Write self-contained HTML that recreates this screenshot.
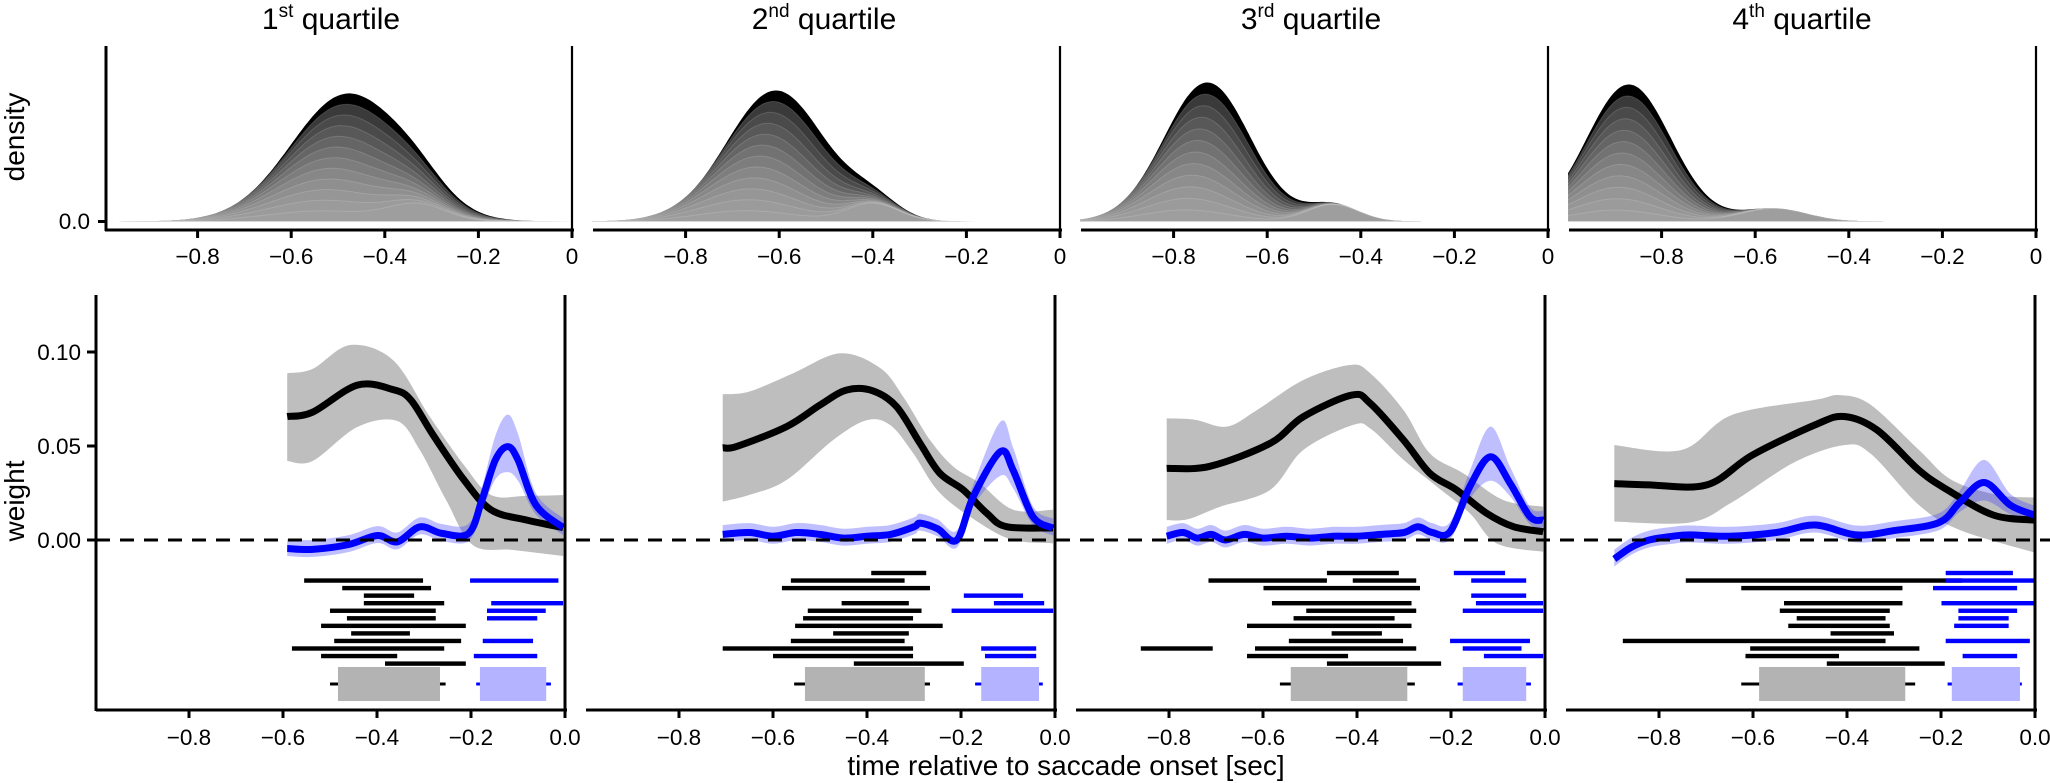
<!DOCTYPE html>
<html><head><meta charset="utf-8"><style>
html,body{margin:0;padding:0;background:#fff;}
svg{display:block;font-family:"Liberation Sans",Arial,sans-serif;}
</style></head><body>
<svg id="s" width="2050" height="783" viewBox="0 0 2050 783" xmlns="http://www.w3.org/2000/svg">
<text x="331" y="29" font-size="30" text-anchor="middle">1<tspan font-size="19" dy="-12">st</tspan><tspan dy="12"> quartile</tspan></text>
<text x="824" y="29" font-size="30" text-anchor="middle">2<tspan font-size="19" dy="-12">nd</tspan><tspan dy="12"> quartile</tspan></text>
<text x="1311" y="29" font-size="30" text-anchor="middle">3<tspan font-size="19" dy="-12">rd</tspan><tspan dy="12"> quartile</tspan></text>
<text x="1802" y="29" font-size="30" text-anchor="middle">4<tspan font-size="19" dy="-12">th</tspan><tspan dy="12"> quartile</tspan></text>
<text transform="translate(24,137) rotate(-90)" font-size="28" text-anchor="middle">density</text>
<text transform="translate(24,501) rotate(-90)" font-size="28" text-anchor="middle">weight</text>
<text x="1066" y="775" font-size="28" text-anchor="middle">time relative to saccade onset [sec]</text>
<g id="g"></g>
</svg>
<script>
var NS="http://www.w3.org/2000/svg",G=document.getElementById('g');
function el(t,a,txt){var e=document.createElementNS(NS,t);for(var k in a)e.setAttribute(k,a[k]);if(txt!=null)e.textContent=txt;G.appendChild(e);return e;}
function spline(pts){
 var d="M"+pts[0][0].toFixed(1)+","+pts[0][1].toFixed(1);
 for(var i=0;i<pts.length-1;i++){var p0=pts[Math.max(0,i-1)],p1=pts[i],p2=pts[i+1],p3=pts[Math.min(pts.length-1,i+2)];
  var c1=[p1[0]+(p2[0]-p0[0])/6,p1[1]+(p2[1]-p0[1])/6],c2=[p2[0]-(p3[0]-p1[0])/6,p2[1]-(p3[1]-p1[1])/6];
  d+=" C"+c1[0].toFixed(1)+","+c1[1].toFixed(1)+" "+c2[0].toFixed(1)+","+c2[1].toFixed(1)+" "+p2[0].toFixed(1)+","+p2[1].toFixed(1);}
 return d;}
function splineL(pts){return spline(pts).replace(/^M/,"L");}
var dens=[
 {mu:-0.48,s:0.12,A:128,sh:0.06,bm:-0.33,bs:0.06,bh:16},
 {mu:-0.607,s:0.105,A:131,sh:0.07,bm:-0.40,bs:0.055,bh:18},
 {mu:-0.728,s:0.092,A:139,sh:0.05,bm:-0.46,bs:0.055,bh:17},
 {mu:-0.87,s:0.09,A:137,sh:0.03,bm:-0.56,bs:0.07,bh:13}];
for(var p=0;p<4;p++){
 var Z=572+488*p,L=Z-468,D=dens[p],N=12;
 for(var k=N;k>=1;k--){
  var f=k/N,mk=D.mu-D.sh*(1-f),pts=[];
  for(var t=-1;t<=0.0001;t+=0.01){
   var v=D.bh*Math.exp(-Math.pow(t-D.bm,2)/(2*D.bs*D.bs))+f*(D.A-D.bh*Math.exp(-Math.pow(D.mu-D.bm,2)/(2*D.bs*D.bs)))*Math.exp(-Math.pow(t-mk,2)/(2*D.s*D.s));
   pts.push([Z+t*468,221.5-v]);}
  var g=(k==N)?0:Math.round(158-100*Math.pow((k-1)/(N-2),1.6));
  var col="rgb("+g+","+g+","+g+")";
  el('path',{d:"M"+L+",221.5 "+splineL(pts)+" L"+Z+",221.5 Z",fill:col,stroke:(k==N?"none":"rgba(255,255,255,0.15)"),"stroke-width":1});
 }
 el('line',{x1:L+1,y1:230,x2:Z+2,y2:230,stroke:"#000","stroke-width":3});
 el('line',{x1:Z,y1:46,x2:Z,y2:231,stroke:"#000","stroke-width":2.2});
 var lab=["\u22120.8","\u22120.6","\u22120.4","\u22120.2","0"];
 for(var i=0;i<5;i++){var x=Z-0.8*468+i*0.2*468;
  el('line',{x1:x,y1:230,x2:x,y2:238,stroke:"#000","stroke-width":3});
  el('text',{x:x,y:264,"font-size":22.5,"text-anchor":"middle"},lab[i]);}
}
el('line',{x1:106,y1:46,x2:106,y2:231,stroke:"#000","stroke-width":3});
el('line',{x1:98,y1:221.5,x2:106,y2:221.5,stroke:"#000","stroke-width":3});
el('text',{x:90,y:229,"font-size":22.5,"text-anchor":"end"},"0.0");
function Y(v){return 540-v*1880;}
var blk=[
 [[-0.591,0.0657],[-0.537,0.068],[-0.442,0.0824],[-0.366,0.080],[-0.328,0.0745],[-0.281,0.056],[-0.215,0.032],[-0.157,0.016],[-0.081,0.0106],[-0.004,0.0066]],
 [[-0.707,0.0491],[-0.677,0.0498],[-0.571,0.0603],[-0.5,0.0718],[-0.443,0.0798],[-0.387,0.0793],[-0.337,0.0709],[-0.287,0.0514],[-0.245,0.0355],[-0.195,0.0266],[-0.145,0.0142],[-0.103,0.0071],[-0.004,0.0064]],
 [[-0.805,0.0381],[-0.713,0.0392],[-0.585,0.0514],[-0.514,0.0656],[-0.411,0.0771],[-0.372,0.0727],[-0.301,0.0532],[-0.245,0.0355],[-0.188,0.0266],[-0.124,0.0142],[-0.067,0.0071],[-0.004,0.0044]],
 [[-0.895,0.030],[-0.821,0.0293],[-0.698,0.0293],[-0.601,0.0452],[-0.468,0.0612],[-0.406,0.0657],[-0.336,0.0585],[-0.247,0.0372],[-0.186,0.0266],[-0.089,0.0133],[-0.002,0.0106]]];
var bup=[
 [[-0.591,0.0887],[-0.537,0.091],[-0.457,0.1037],[-0.366,0.0957],[-0.29,0.0665],[-0.215,0.0399],[-0.157,0.0239],[-0.08,0.0235],[-0.004,0.0239]],
 [[-0.707,0.0775],[-0.65,0.079],[-0.557,0.0887],[-0.457,0.0993],[-0.372,0.0915],[-0.323,0.0762],[-0.266,0.0532],[-0.216,0.039],[-0.16,0.0302],[-0.089,0.0161],[-0.004,0.0161]],
 [[-0.805,0.0647],[-0.745,0.064],[-0.677,0.0603],[-0.613,0.0691],[-0.514,0.0851],[-0.415,0.0931],[-0.372,0.0887],[-0.301,0.0691],[-0.245,0.0461],[-0.174,0.0355],[-0.089,0.0213],[-0.004,0.0177]],
 [[-0.895,0.0505],[-0.751,0.0479],[-0.645,0.0665],[-0.468,0.0745],[-0.415,0.0771],[-0.35,0.072],[-0.247,0.0479],[-0.177,0.0319],[-0.08,0.024],[-0.002,0.0226]]];
var blo=[
 [[-0.591,0.042],[-0.537,0.042],[-0.442,0.0601],[-0.357,0.0633],[-0.309,0.0479],[-0.253,0.0213],[-0.196,-0.0027],[-0.11,-0.0053],[-0.004,-0.0085]],
 [[-0.707,0.0204],[-0.65,0.024],[-0.571,0.0319],[-0.472,0.0532],[-0.40,0.0638],[-0.35,0.061],[-0.302,0.0462],[-0.245,0.025],[-0.16,0.009],[-0.089,0.0],[-0.004,-0.0018]],
 [[-0.805,0.0106],[-0.76,0.011],[-0.691,0.0177],[-0.585,0.0266],[-0.514,0.0479],[-0.408,0.0612],[-0.37,0.059],[-0.301,0.0426],[-0.23,0.0284],[-0.16,0.0142],[-0.103,-0.0018],[-0.004,-0.0062]],
 [[-0.895,0.0098],[-0.734,0.0093],[-0.645,0.02],[-0.513,0.0412],[-0.406,0.0505],[-0.35,0.046],[-0.247,0.0186],[-0.16,0.0053],[-0.002,-0.0066]]];
var blu=[
 [[-0.591,-0.0045],[-0.537,-0.005],[-0.46,-0.0024],[-0.399,0.0024],[-0.357,-0.001],[-0.309,0.007],[-0.262,0.0035],[-0.205,0.0035],[-0.177,0.021],[-0.148,0.0426],[-0.122,0.0497],[-0.1,0.0426],[-0.062,0.0186],[-0.004,0.0066]],
 [[-0.707,0.003],[-0.65,0.004],[-0.6,0.002],[-0.55,0.004],[-0.5,0.003],[-0.45,0.001],[-0.4,0.002],[-0.35,0.003],[-0.3,0.007],[-0.287,0.009],[-0.25,0.006],[-0.209,0.0],[-0.174,0.023],[-0.116,0.047],[-0.089,0.037],[-0.047,0.0124],[-0.004,0.0064]],
 [[-0.805,0.002],[-0.77,0.004],[-0.74,0.001],[-0.71,0.003],[-0.68,0.0],[-0.64,0.003],[-0.6,0.001],[-0.55,0.002],[-0.5,0.001],[-0.45,0.002],[-0.4,0.002],[-0.35,0.003],[-0.3,0.004],[-0.27,0.007],[-0.24,0.004],[-0.202,0.0044],[-0.16,0.0284],[-0.116,0.0443],[-0.074,0.0301],[-0.032,0.0124],[-0.004,0.0106]],
 [[-0.895,-0.0101],[-0.86,-0.004],[-0.821,0],[-0.77,0.002],[-0.734,0.0027],[-0.65,0.002],[-0.55,0.004],[-0.468,0.008],[-0.38,0.0027],[-0.3,0.005],[-0.204,0.0093],[-0.16,0.02],[-0.108,0.0306],[-0.053,0.0186],[-0.002,0.0133]]];
var pk=[[-0.122,0.012],[-0.116,0.011],[-0.116,0.011],[-0.108,0.007]];
var bars=[
 {k:[[1,-0.555,-0.302],[2,-0.474,-0.285],[3,-0.428,-0.321],[4,-0.428,-0.257],[5,-0.5,-0.275],[6,-0.464,-0.275],[7,-0.519,-0.211],[8,-0.455,-0.33],[9,-0.491,-0.221],[10,-0.581,-0.257],[11,-0.519,-0.357],[12,-0.383,-0.211]],
  b:[[1,-0.202,-0.014],[4,-0.157,-0.004],[5,-0.166,-0.041],[6,-0.166,-0.059],[9,-0.175,-0.068],[11,-0.194,-0.059]],
  gb:[-0.483,-0.266],gw:[-0.5,-0.254],bb:[-0.181,-0.04],bw:[-0.189,-0.03]},
 {k:[[0,-0.391,-0.274],[1,-0.562,-0.32],[2,-0.581,-0.266],[4,-0.454,-0.311],[5,-0.526,-0.284],[6,-0.536,-0.302],[7,-0.553,-0.239],[8,-0.472,-0.311],[9,-0.562,-0.32],[10,-0.707,-0.302],[11,-0.6,-0.302],[12,-0.428,-0.194]],
  b:[[3,-0.194,-0.068],[4,-0.13,-0.023],[5,-0.22,-0.004],[10,-0.157,-0.04],[11,-0.149,-0.04]],
  gb:[-0.532,-0.277],gw:[-0.555,-0.266],bb:[-0.157,-0.034],bw:[-0.17,-0.026]},
 {k:[[0,-0.464,-0.311],[1,-0.716,-0.464],[1,-0.409,-0.274],[2,-0.599,-0.266],[4,-0.581,-0.284],[5,-0.508,-0.274],[6,-0.535,-0.32],[7,-0.634,-0.284],[8,-0.454,-0.347],[9,-0.545,-0.302],[10,-0.86,-0.707],[10,-0.617,-0.274],[11,-0.634,-0.419],[12,-0.464,-0.221]],
  b:[[0,-0.194,-0.085],[1,-0.157,-0.04],[3,-0.157,-0.04],[4,-0.147,-0.004],[5,-0.175,-0.004],[9,-0.202,-0.032],[10,-0.175,-0.05],[11,-0.13,-0.004]],
  gb:[-0.541,-0.293],gw:[-0.564,-0.277],bb:[-0.175,-0.04],bw:[-0.186,-0.03]},
 {k:[[1,-0.743,-0.155],[2,-0.625,-0.282],[4,-0.534,-0.282],[5,-0.543,-0.309],[6,-0.507,-0.318],[7,-0.525,-0.309],[8,-0.435,-0.3],[9,-0.877,-0.318],[10,-0.606,-0.246],[11,-0.616,-0.417],[12,-0.443,-0.192]],
  b:[[0,-0.19,-0.047],[1,-0.19,-0.002],[2,-0.217,-0.038],[4,-0.199,-0.002],[5,-0.163,-0.038],[6,-0.163,-0.056],[7,-0.172,-0.056],[9,-0.19,-0.011],[11,-0.154,-0.038]],
  gb:[-0.587,-0.276],gw:[-0.625,-0.255],bb:[-0.177,-0.032],bw:[-0.186,-0.028]}];
for(var p=0;p<4;p++){
 var Z=565+490*p,L=Z-470;
 var X=(function(Z){return function(t){return Z+t*470;};})(Z);
 var up=bup[p].map(function(a){return [X(a[0]),Y(a[1])];}),lo=blo[p].map(function(a){return [X(a[0]),Y(a[1])];}).reverse();
 el('path',{d:spline(up)+" L"+lo[0][0]+","+lo[0][1]+" "+splineL(lo)+" Z",fill:"#bebebe"});
 var bl=blu[p],P=pk[p],u2=[],l2=[];
 for(var i=0;i<bl.length;i++){var w=0.005+P[1]*Math.exp(-Math.pow((bl[i][0]-P[0])/0.04,2));u2.push([X(bl[i][0]),Y(bl[i][1]+w)]);l2.push([X(bl[i][0]),Y(bl[i][1]-w*0.8)]);}
 l2.reverse();
 el('path',{d:spline(u2)+" L"+l2[0][0]+","+l2[0][1]+" "+splineL(l2)+" Z",fill:"rgba(60,60,255,0.33)"});
 el('path',{d:spline(blk[p].map(function(a){return [X(a[0]),Y(a[1])];})),fill:"none",stroke:"#000","stroke-width":7,"stroke-linejoin":"round"});
 el('path',{d:spline(bl.map(function(a){return [X(a[0]),Y(a[1])];})),fill:"none",stroke:"#0000ff","stroke-width":7,"stroke-linejoin":"round"});
 var B=bars[p];
 B.k.forEach(function(r){el('rect',{x:X(r[1]),y:573+7.55*r[0]-2.2,width:X(r[2])-X(r[1]),height:4.4,fill:"#000"});});
 B.b.forEach(function(r){el('rect',{x:X(r[1]),y:573+7.55*r[0]-2.2,width:X(r[2])-X(r[1]),height:4.4,fill:"#0000ff"});});
 el('line',{x1:X(B.gw[0]),y1:684,x2:X(B.gw[1]),y2:684,stroke:"#000","stroke-width":3});
 el('rect',{x:X(B.gb[0]),y:667,width:X(B.gb[1])-X(B.gb[0]),height:34,fill:"#b3b3b3"});
 el('line',{x1:X(B.bw[0]),y1:684,x2:X(B.bw[1]),y2:684,stroke:"#0000ff","stroke-width":3});
 el('rect',{x:X(B.bb[0]),y:667,width:X(B.bb[1])-X(B.bb[0]),height:34,fill:"#b3b3ff"});
 el('line',{x1:L+1,y1:710,x2:Z+2,y2:710,stroke:"#000","stroke-width":3});
 el('line',{x1:Z,y1:295,x2:Z,y2:711,stroke:"#000","stroke-width":3});
 var lab=["\u22120.8","\u22120.6","\u22120.4","\u22120.2","0.0"];
 for(var i=0;i<5;i++){var x=Z-0.8*470+i*0.2*470;
  el('line',{x1:x,y1:710,x2:x,y2:718,stroke:"#000","stroke-width":3});
  el('text',{x:x,y:745,"font-size":22.5,"text-anchor":"middle"},lab[i]);}
}
el('line',{x1:96,y1:540,x2:2050,y2:540,stroke:"#000","stroke-width":3,"stroke-dasharray":"14,10"});
el('line',{x1:96,y1:295,x2:96,y2:711,stroke:"#000","stroke-width":3});
[[0.10,"0.10"],[0.05,"0.05"],[0,"0.00"]].forEach(function(a){var y=Y(a[0]);
 el('line',{x1:87,y1:y,x2:96,y2:y,stroke:"#000","stroke-width":3});
 el('text',{x:81,y:y+8,"font-size":22.5,"text-anchor":"end"},a[1]);});
</script>
</body></html>
